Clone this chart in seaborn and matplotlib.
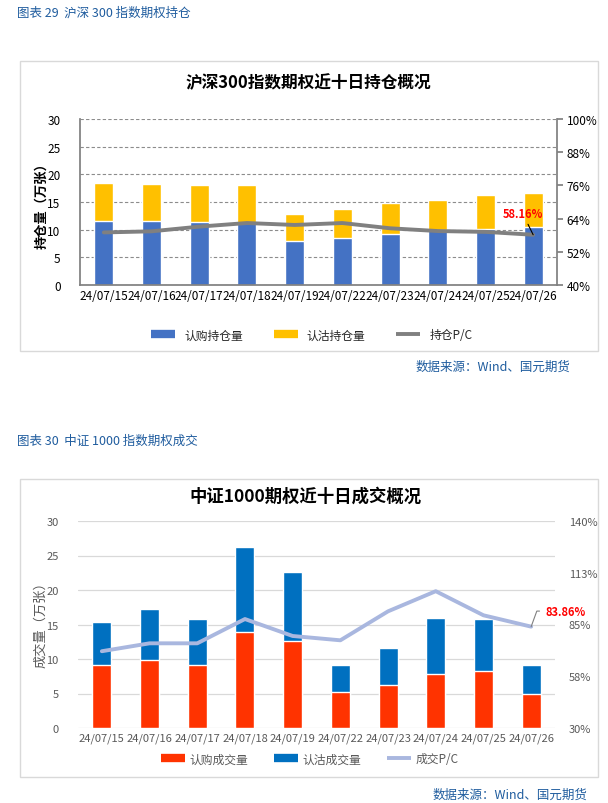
import numpy as np
import pandas as pd
import matplotlib
matplotlib.use("Agg")
import matplotlib.pyplot as plt
import seaborn as sns
from matplotlib.patches import Rectangle
from matplotlib.lines import Line2D

# ---------------- data ----------------
dates = ["24/07/15", "24/07/16", "24/07/17", "24/07/18", "24/07/19",
         "24/07/22", "24/07/23", "24/07/24", "24/07/25", "24/07/26"]

oi_call = [11.57, 11.57, 11.39, 11.20, 7.95, 8.49, 9.22, 9.94, 10.12, 10.48]
oi_put = [6.86, 6.68, 6.68, 6.87, 4.88, 5.24, 5.66, 5.42, 6.15, 6.15]
oi_pc = [59.0, 59.4, 61.1, 62.4, 61.7, 62.4, 60.5, 59.5, 59.2, 58.16]
oi_right_ticks = [40, 52, 64, 76, 88, 100]
oi_right_labels = ["40%", "52%", "64%", "76%", "88%", "100%"]

vol_call = [9.06, 9.87, 9.06, 13.92, 12.62, 5.15, 6.17, 7.85, 8.33, 5.00]
vol_put = [6.31, 7.37, 6.74, 12.28, 9.97, 3.91, 5.44, 8.09, 7.47, 4.06]
vol_pc = [70.8, 75.0, 75.0, 87.9, 78.9, 76.6, 92.0, 102.7, 89.9, 83.86]
vol_right_ticks = [30, 57.5, 85, 112.5, 140]
vol_right_labels = ["30%", "58%", "85%", "113%", "140%"]

left_ticks = [0, 5, 10, 15, 20, 25, 30]

# ---------------- style ----------------
sns.set_theme(style="white")
plt.rcParams["font.family"] = ["Noto Sans CJK SC", "DejaVu Sans"]
plt.rcParams["axes.unicode_minus"] = False

W, H = 608, 804
fig = plt.figure(figsize=(W / 100, H / 100), dpi=100)


def fx(x):
    return x / W


def fy(y):
    return 1 - y / H


def add_axes_px(l, t, r, b):
    return fig.add_axes([fx(l), fy(b), (r - l) / W, (b - t) / H])


head_color = "#1F5C9E"

# ================= Chart 1 =================
fig.text(fx(17), fy(13), "图表 29  沪深 300 指数期权持仓", color=head_color,
         fontsize=9, ha="left", va="center")
fig.patches.append(Rectangle((fx(20), fy(352)), (598 - 20) / W, (352 - 62) / H,
                             transform=fig.transFigure, fill=False,
                             edgecolor="#D9D9D9", linewidth=1))
fig.text(fx(308), fy(83), "沪深300指数期权近十日持仓概况", fontsize=12,
         fontweight="bold", ha="center", va="center", color="black")

ax1 = add_axes_px(80, 120, 557, 286)
df1 = pd.DataFrame({"date": dates, "call": oi_call,
                    "total": np.array(oi_call) + np.array(oi_put)})
sns.barplot(data=df1, x="date", y="total", color="#FFC000", saturation=1,
            width=0.4, ax=ax1, errorbar=None)
sns.barplot(data=df1, x="date", y="call", color="#4472C4", saturation=1,
            width=0.4, ax=ax1, errorbar=None)
ax1.set_ylim(0, 30)
ax1.set_yticks(left_ticks)
ax1.set_xlim(-0.5, len(dates) - 0.5)
ax1.set_axisbelow(True)
ax1.grid(axis="y", linestyle=(0, (3, 2)), color="#8C8C8C", linewidth=0.8)
ax1.grid(axis="x", visible=False)
for s in ["left", "bottom"]:
    ax1.spines[s].set_color("#808080")
ax1.spines["top"].set_visible(False)
ax1.spines["right"].set_visible(False)
ax1.tick_params(axis="y", length=0, labelsize=8.5, labelcolor="black", pad=14)
ax1.tick_params(axis="x", length=0, labelsize=8.5, labelcolor="black", pad=3)
ax1.set_xlabel("")
ax1.set_ylabel("持仓量（万张）", fontsize=9.5, fontweight="bold", color="black")
ax1.yaxis.set_label_coords(-0.066, 0.5)

ax1r = ax1.twinx()
sns.lineplot(x=np.arange(len(dates)), y=oi_pc, ax=ax1r, color="#808080",
             linewidth=2.8)
ax1r.set_ylim(40, 100)
ax1r.set_yticks(oi_right_ticks)
ax1r.set_yticklabels(oi_right_labels)
ax1r.grid(False)
for s in ["left", "top", "bottom"]:
    ax1r.spines[s].set_visible(False)
ax1r.spines["right"].set_color("#808080")
ax1r.tick_params(axis="y", length=4, direction="out", color="#808080",
                 labelsize=8.5, labelcolor="black", pad=3)
ax1r.set_ylabel("")
ax1r.annotate(f"{oi_pc[-1]:.2f}%", xy=(len(dates) - 1, oi_pc[-1]),
              xytext=(-0.95, 1.35), textcoords="offset fontsize",
              color="red", fontsize=8, fontweight="bold", ha="center",
              va="bottom",
              arrowprops=dict(arrowstyle="-", color="black", lw=0.8,
                              shrinkA=1, shrinkB=0))

h1 = [Line2D([0], [0], color="#4472C4", lw=6, solid_capstyle="butt"),
      Line2D([0], [0], color="#FFC000", lw=6, solid_capstyle="butt"),
      Line2D([0], [0], color="#808080", lw=2.8, solid_capstyle="butt")]
fig.legend(h1, ["认购持仓量", "认沽持仓量", "持仓P/C"], loc="center",
           bbox_to_anchor=(fx(312), fy(336)), ncol=3, frameon=False,
           fontsize=8.5, handlelength=2.0, columnspacing=2.6, handletextpad=0.8)
fig.text(fx(570), fy(367), "数据来源：Wind、国元期货", color=head_color,
         fontsize=9, ha="right", va="center")

# ================= Chart 2 =================
fig.text(fx(17), fy(441), "图表 30  中证 1000 指数期权成交", color=head_color,
         fontsize=9, ha="left", va="center")
fig.patches.append(Rectangle((fx(20), fy(778)), (598 - 20) / W, (778 - 480) / H,
                             transform=fig.transFigure, fill=False,
                             edgecolor="#D9D9D9", linewidth=1))
fig.text(fx(306), fy(497), "中证1000期权近十日成交概况", fontsize=12.5,
         fontweight="bold", ha="center", va="center", color="black")

ax2 = add_axes_px(78, 522, 555, 729)
df2 = pd.DataFrame({"date": dates, "call": vol_call,
                    "total": np.array(vol_call) + np.array(vol_put)})
sns.barplot(data=df2, x="date", y="total", color="#0070C0", saturation=1,
            width=0.4, ax=ax2, errorbar=None)
sns.barplot(data=df2, x="date", y="call", color="#FF3300", saturation=1,
            width=0.4, ax=ax2, errorbar=None)
ax2.set_ylim(0, 30)
ax2.set_yticks(left_ticks)
ax2.set_xlim(-0.5, len(dates) - 0.5)
ax2.set_axisbelow(True)
ax2.grid(axis="y", linestyle="-", color="#D9D9D9", linewidth=0.9)
ax2.grid(axis="x", visible=False)
for s in ax2.spines.values():
    s.set_visible(False)
ax2.tick_params(axis="y", length=0, labelsize=8, labelcolor="#595959", pad=14)
ax2.tick_params(axis="x", length=0, labelsize=8, labelcolor="#595959", pad=3)
ax2.set_xlabel("")
ax2.set_ylabel("成交量（万张）", fontsize=9.5, color="#595959")
ax2.yaxis.set_label_coords(-0.064, 0.52)

ax2r = ax2.twinx()
sns.lineplot(x=np.arange(len(dates)), y=vol_pc, ax=ax2r, color="#A9B7DF",
             linewidth=2.8)
ax2r.set_ylim(30, 140)
ax2r.set_yticks(vol_right_ticks)
ax2r.set_yticklabels(vol_right_labels)
ax2r.grid(False)
for s in ax2r.spines.values():
    s.set_visible(False)
ax2r.tick_params(axis="y", length=0, labelsize=8, labelcolor="#595959", pad=10)
ax2r.set_ylabel("")
ax2r.annotate(f"{vol_pc[-1]:.2f}%", xy=(len(dates) - 1, vol_pc[-1]),
              xytext=(1.3, 1.4), textcoords="offset fontsize",
              color="red", fontsize=8, fontweight="bold", ha="left",
              va="center",
              arrowprops=dict(arrowstyle="-", color="#808080", lw=0.8,
                              shrinkA=2, shrinkB=0,
                              connectionstyle="angle,angleA=0,angleB=70,rad=0"))

h2 = [Line2D([0], [0], color="#FF3300", lw=6, solid_capstyle="butt"),
      Line2D([0], [0], color="#0070C0", lw=6, solid_capstyle="butt"),
      Line2D([0], [0], color="#A9B7DF", lw=2.8, solid_capstyle="butt")]
fig.legend(h2, ["认购成交量", "认沽成交量", "成交P/C"], loc="center",
           bbox_to_anchor=(fx(310), fy(760)), ncol=3, frameon=False,
           fontsize=8.5, handlelength=2.0, columnspacing=2.2, handletextpad=0.4,
           labelcolor="#595959")
fig.text(fx(587), fy(795), "数据来源：Wind、国元期货", color=head_color,
         fontsize=9, ha="right", va="center")

fig.savefig("out.png", dpi=100)
